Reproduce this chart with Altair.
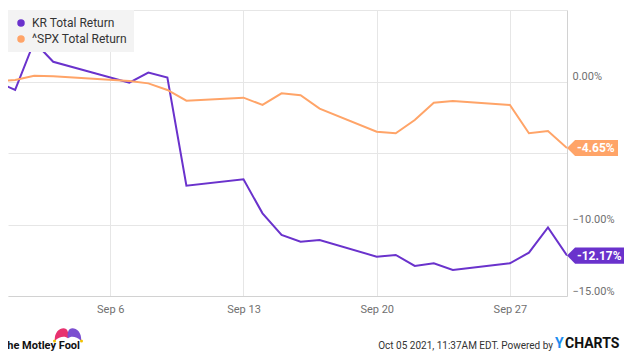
import altair as alt
import pandas as pd

# ---- data ----
dates = ["2021-08-31", "2021-09-01", "2021-09-02", "2021-09-03", "2021-09-07",
         "2021-09-08", "2021-09-09", "2021-09-10", "2021-09-13", "2021-09-14",
         "2021-09-15", "2021-09-16", "2021-09-17", "2021-09-20", "2021-09-21",
         "2021-09-22", "2021-09-23", "2021-09-24", "2021-09-27", "2021-09-28",
         "2021-09-29", "2021-09-30"]
kr = [0.0, -0.59, 2.78, 1.38, -0.08, 0.62, 0.27, -7.29, -6.84, -9.22,
      -10.73, -11.2, -11.08, -12.25, -12.13, -12.9, -12.71, -13.18, -12.71, -11.97,
      -10.2, -12.17]
spx = [0.0, 0.1, 0.4, 0.36, 0.03, -0.13, -0.59, -1.34, -1.13, -1.64,
       -0.83, -0.96, -1.9, -3.51, -3.62, -2.69, -1.48, -1.36, -1.64, -3.62,
       -3.46, -4.65]
series_names = ["KR Total Return", "^SPX Total Return"]
x_ticks = ["2021-09-06", "2021-09-13", "2021-09-20", "2021-09-27"]
y_ticks = [-15, -10, -5, 0, 5]
footer_date = "Oct 05 2021, 11:37AM EDT."

colors = ["#6a32cc", "#ffa468"]

rows = []
for name, vals in zip(series_names, [kr, spx]):
    for d, v in zip(dates, vals):
        rows.append({"date": d, "value": v, "series": name})
df = pd.DataFrame(rows)

last = pd.DataFrame({
    "date": [dates[-1], dates[-1]],
    "value": [kr[-1], spx[-1]],
    "series": series_names,
    "label": [f"{kr[-1]:.2f}%", f"{spx[-1]:.2f}%"],
})


def dt(s, h=0):
    y, m, d = map(int, s.split("-"))
    return alt.DateTime(year=y, month=m, date=d, hours=h, utc=True)


x_enc = alt.X(
    "date:T",
    title=None,
    scale=alt.Scale(type="utc", domain=[dt("2021-08-31", 15), dt("2021-09-30")]),
    axis=alt.Axis(values=[dt(s) for s in x_ticks],
                  labelExpr="utcFormat(datum.value, '%b %-d')",
                  ticks=False, labelPadding=7, domainColor="#d2d2d2",
                  gridColor="#e6e6e6", labelColor="#707070", labelFontSize=11,
                  labelFont="Roboto"),
)
y_enc = alt.Y(
    "value:Q",
    title=None,
    scale=alt.Scale(domain=[-15, 5], nice=False, zero=False),
    axis=alt.Axis(orient="right", values=y_ticks,
                  labelExpr="(datum.value > 4 || datum.value == -5) ? '' : format(datum.value, '.2f') + '%'",
                  ticks=False, labelPadding=5, labelBaseline="bottom",
                  domainColor="#d2d2d2", gridColor="#e6e6e6", labelColor="#707070",
                  labelFontSize=11, labelFont="Roboto"),
)

color_scale = alt.Scale(domain=series_names, range=colors)

# invisible points that only provide the legend (filled circles)
legend_pts = alt.Chart(last).mark_point(filled=True, opacity=0, size=30).encode(
    x=x_enc, y=y_enc,
    color=alt.Color("series:N", scale=color_scale,
                    legend=alt.Legend(title=None, orient="top-left", offset=0,
                                      fillColor="#f3f3f3", padding=7,
                                      symbolType="circle", symbolSize=36,
                                      symbolOpacity=1, labelFontSize=12,
                                      labelFont="Roboto", labelColor="#333333",
                                      rowPadding=4, labelOffset=5)),
)

lines = alt.Chart(df).mark_line(strokeWidth=2, clip=True).encode(
    x="date:T", y="value:Q",
    color=alt.Color("series:N", scale=color_scale, legend=None),
)

tag_paths = ["M0,0L0.27,-0.27L1.9,-0.27L1.9,0.27L0.27,0.27Z",
             "M0,0L0.27,-0.27L1.7,-0.27L1.7,0.27L0.27,0.27Z"]

tag_layers = []
for name, path in zip(series_names, tag_paths):
    tag_layers.append(
        alt.Chart(last).transform_filter(alt.datum.series == name)
        .mark_point(shape=path, size=3600, filled=True, opacity=1, strokeWidth=0)
        .encode(x="date:T", y="value:Q",
                color=alt.Color("series:N", scale=color_scale, legend=None))
    )

tag_text = alt.Chart(last).mark_text(align="left", baseline="middle", dx=10, font="Roboto",
                                     fontSize=12, fontWeight="bold", color="white").encode(
    x="date:T", y="value:Q", text="label:N")


def label(txt, x, y, **kw):
    return alt.Chart(pd.DataFrame({"t": [txt]})).mark_text(baseline="middle", **kw).encode(
        x=alt.value(x), y=alt.value(y), text="t:N")


foot1 = label(footer_date, 491, 336, align="right", font="Roboto", fontSize=10,
              color="#333333")
foot2 = label("Powered by", 545, 336, align="right", font="Roboto", fontSize=10,
              color="#333333")
ych_y = label("Y", 547, 334, align="left", font="Roboto", fontSize=14, fontWeight="bold",
              color="#1a8cf0")
ych_rest = label("CHARTS", 557, 334, align="left", font="Roboto", fontSize=14,
                 fontWeight="bold", color="#111111")
fool = label("The Motley Fool", 72, 336, align="right", font="Roboto", fontSize=11,
             fontWeight="bold", color="#111111")

lobe_l = "M-1,0.9C-1.1,-0.4 -0.3,-1 0.3,-1C0.9,-1 1.1,-0.4 1,0.5C0.5,0.1 -0.3,0.2 -1,0.9Z"
lobe_r = "M1,0.9C1.1,-0.4 0.3,-1 -0.3,-1C-0.9,-1 -1.1,-0.4 -1,0.5C-0.5,0.1 0.3,0.2 1,0.9Z"


def shape_at(path, x, y, size, col):
    return alt.Chart(pd.DataFrame({"t": [0]})).mark_point(
        shape=path, size=size, filled=True, opacity=1, strokeWidth=0, color=col).encode(
        x=alt.value(x), y=alt.value(y))


hat1 = shape_at(lobe_l, 53.5, 325, 180, "#e8326f")
hat2 = shape_at(lobe_r, 66.5, 325, 180, "#7b4fd0")
bell1 = shape_at("circle", 46.5, 331, 9, "#f2c200")
bell2 = shape_at("circle", 73.5, 331, 9, "#f2c200")

chart = alt.layer(legend_pts, lines, *tag_layers, tag_text, foot1, foot2, ych_y, ych_rest,
                  fool, hat1, hat2, bell1, bell2).properties(
    width=559, height=286,
    autosize=alt.AutoSizeParams(type="none"),
    padding={"left": 0, "top": 2, "right": 65, "bottom": 56},
).configure_view(stroke=None)

chart.save("out.html", embed_options={"renderer": "svg", "actions": False})
